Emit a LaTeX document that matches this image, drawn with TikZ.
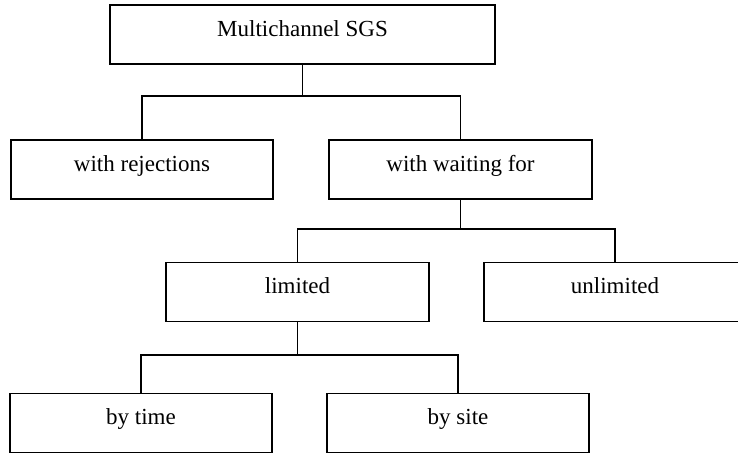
\documentclass[tikz,border=0pt]{standalone}
\usepackage{fontspec}
\setmainfont{Liberation Serif}
\begin{document}
\begin{tikzpicture}[x=1pt,y=-1pt,
  box/.style={draw, line width=1.8pt, rectangle, inner sep=0pt, anchor=north,
    minimum width=#1, text height=31.5pt, text depth=27.5pt,
    font=\fontsize{23}{27}\selectfont},
  box/.default=262pt,
  conn/.style={line width=1.8pt}]
\useasboundingbox (0,0) rectangle (738,452);
\node[box=385pt] (top) at (302.5,4) {Multichannel SGS};
\node[box] (rej) at (142,139) {with rejections};
\node[box=263pt] (wait) at (460.5,139) {with waiting for};
\node[box=263pt] (lim) at (297.5,261.5) {limited};
\node[box] (unl) at (615,261.5) {unlimited};
\node[box] (time) at (141,392.5) {by time};
\node[box] (site) at (458,392.5) {by site};
\coordinate (j1) at (302.5,96);
\coordinate (j2) at (460.5,229);
\coordinate (j3) at (297.5,355);
\draw[conn] (top.south) -- (j1) -| (rej.north);
\draw[conn] (j1) -| (wait.north);
\draw[conn] (wait.south) -- (j2) -| (lim.north);
\draw[conn] (j2) -| (unl.north);
\draw[conn] (lim.south) -- (j3) -| (time.north);
\draw[conn] (j3) -| (site.north);
\end{tikzpicture}
\end{document}
